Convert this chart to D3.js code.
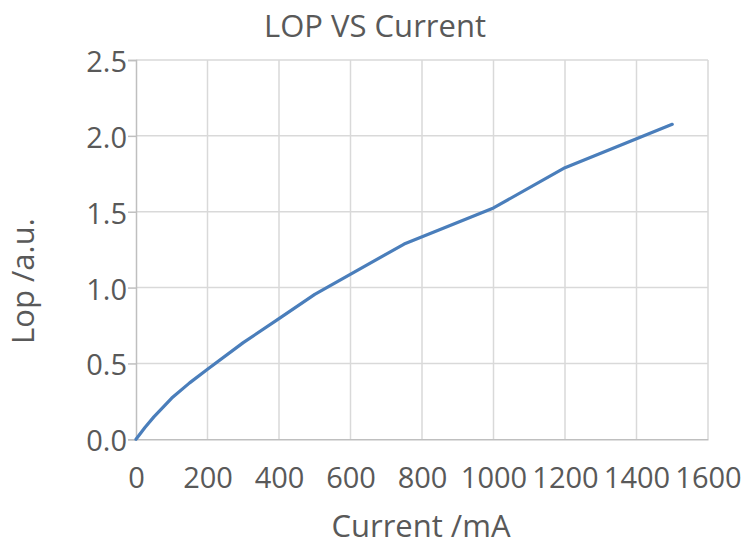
<!DOCTYPE html>
<html>
<head>
<meta charset="utf-8">
<script src="https://cdn.jsdelivr.net/npm/d3@7"></script>
<style>
  html, body { margin: 0; padding: 0; background: #fff; }
  svg { display: block; }
  text { font-family: "Open Sans", "Liberation Sans", sans-serif; fill: #595959; }
</style>
</head>
<body>
<svg id="chart" width="743" height="548"></svg>
<script>
const chartTitle = "LOP VS Current";
const xTitle = "Current /mA";
const yTitle = "Lop /a.u.";
const current = [0, 25, 50, 100, 150, 200, 300, 400, 500, 750, 1000, 1200, 1500];
const lop = [0, 0.078, 0.148, 0.272, 0.372, 0.462, 0.637, 0.795, 0.955, 1.287, 1.525, 1.79, 2.076];
const xTicks = [0, 200, 400, 600, 800, 1000, 1200, 1400, 1600];
const yTicks = [0, 0.5, 1.0, 1.5, 2.0, 2.5];

const svg = d3.select("#chart");
const plot = { left: 136, right: 708, top: 60, bottom: 439.3 };

const x = d3.scaleLinear().domain([0, 1600]).range([plot.left, plot.right]);
const y = d3.scaleLinear().domain([0, 2.5]).range([plot.bottom, plot.top]);

// gridlines
svg.append("g").selectAll("line").data(xTicks.slice(1)).join("line")
  .attr("x1", d => x(d)).attr("x2", d => x(d))
  .attr("y1", plot.top).attr("y2", plot.bottom)
  .attr("stroke", "#d9d9d9").attr("stroke-width", 1.5);
svg.append("g").selectAll("line").data(yTicks.slice(1)).join("line")
  .attr("x1", plot.left).attr("x2", plot.right)
  .attr("y1", d => y(d)).attr("y2", d => y(d))
  .attr("stroke", "#d9d9d9").attr("stroke-width", 1.5);

// x axis
const xAxis = d3.axisBottom(x).tickValues(xTicks).tickSize(0).tickPadding(0)
  .tickFormat(d3.format("d"));
const gx = svg.append("g").attr("transform", `translate(0,${plot.bottom})`).call(xAxis);
gx.select(".domain").attr("stroke", "#bfbfbf").attr("stroke-width", 1.5);
gx.selectAll("text").attr("dy", null).attr("y", 49)
  .style("font-size", "29px").attr("fill", "#595959");

// y axis
const yAxis = d3.axisLeft(y).tickValues(yTicks).tickSize(8).tickPadding(1)
  .tickFormat(d3.format(".1f"));
const gy = svg.append("g").attr("transform", `translate(${plot.left},0)`).call(yAxis);
gy.select(".domain").attr("stroke", "#bfbfbf").attr("stroke-width", 1.5);
gy.selectAll(".tick line").attr("stroke", "#bfbfbf").attr("stroke-width", 1.5);
gy.selectAll("text").attr("dy", null).attr("dominant-baseline", "central")
  .style("font-size", "29px").attr("fill", "#595959");

// line
const line = d3.line().x((d, i) => x(current[i])).y(d => y(d));
svg.append("path").datum(lop)
  .attr("d", line)
  .attr("fill", "none")
  .attr("stroke", "#4a7ebb")
  .attr("stroke-width", 3.2)
  .attr("stroke-linecap", "round")
  .attr("stroke-linejoin", "round");

// titles
svg.append("text").attr("x", 375).attr("y", 37).attr("text-anchor", "middle")
  .style("font-size", "31px").text(chartTitle);
svg.append("text").attr("x", 421).attr("y", 537).attr("text-anchor", "middle")
  .style("font-size", "31px").text(xTitle);
svg.append("text").attr("transform", "translate(34,281) rotate(-90)")
  .attr("text-anchor", "middle")
  .style("font-size", "31px").text(yTitle);
</script>
</body>
</html>
